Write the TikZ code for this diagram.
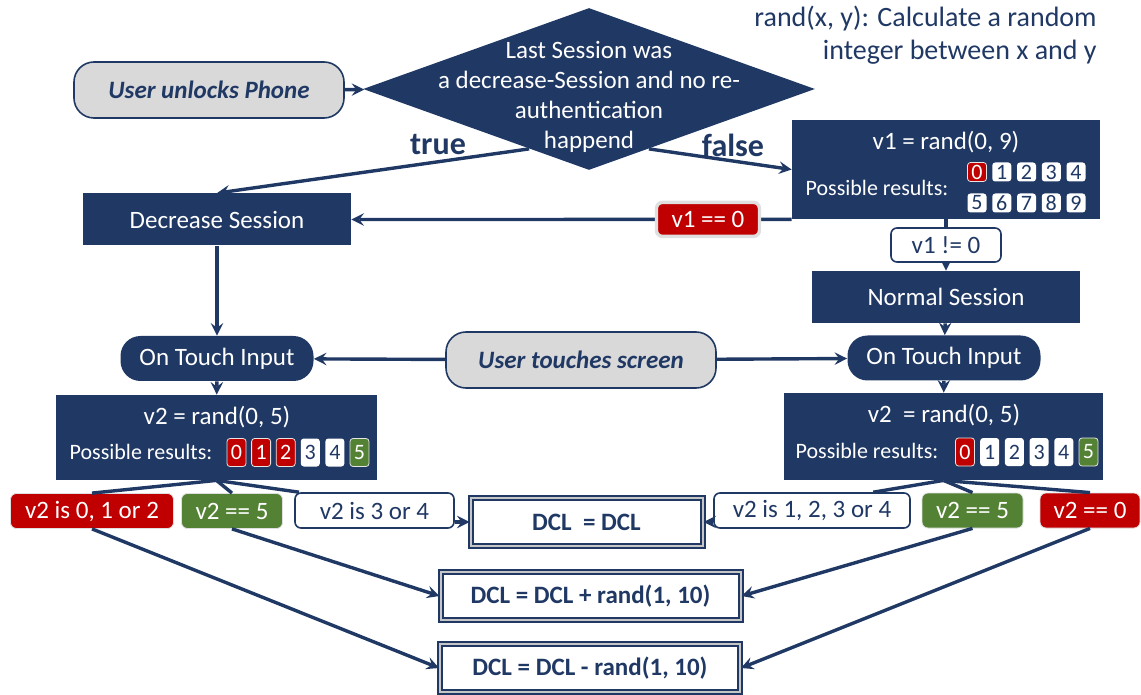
\documentclass[tikz,border=0pt]{standalone}
\usepackage{fontspec}
\setmainfont{Carlito}
\usetikzlibrary{shapes.geometric, arrows, calc}

\definecolor{boxblue}{HTML}{203864}
\definecolor{alarmred}{HTML}{C00000}
\definecolor{okgreen}{HTML}{548235}
\definecolor{eventgray}{HTML}{D9D9D9}

\newcommand{\mainfont}{\fontsize{12.5}{15}\selectfont}
\newcommand{\smallfont}{\fontsize{11}{13}\selectfont}

\tikzstyle{event} = [
    rectangle,
    rounded corners=10pt,
    minimum width=135pt,
    minimum height=28pt,
    draw=boxblue,
    line width=0.8pt,
    fill=eventgray,
    text=boxblue,
    font=\mainfont\bfseries\itshape
]
\tikzstyle{decision} = [
    diamond,
    minimum width=226pt,
    minimum height=81pt,
    inner sep=0pt,
    fill=boxblue
]
\tikzstyle{process} = [
    rectangle,
    minimum width=134pt,
    minimum height=26pt,
    fill=boxblue,
    text=white,
    font=\mainfont
]
\tikzstyle{handler} = [
    rectangle,
    rounded corners=10pt,
    minimum width=96.5pt,
    minimum height=22.5pt,
    fill=boxblue,
    text=white,
    font=\mainfont
]
\tikzstyle{randbox} = [
    rectangle,
    fill=boxblue
]
\tikzstyle{result} = [
    rectangle,
    minimum height=24pt,
    draw=boxblue,
    double=gray!45,
    line width=1pt,
    double distance=1pt,
    fill=white,
    text=boxblue,
    font=\mainfont\bfseries
]
\tikzstyle{cond} = [
    rectangle,
    rounded corners=3pt,
    minimum height=17.5pt,
    inner sep=1pt,
    font=\mainfont
]
\tikzstyle{condred} = [cond, fill=alarmred, text=white, draw=gray!25]
\tikzstyle{condgreen} = [cond, fill=okgreen, text=white, draw=gray!25]
\tikzstyle{condwhite} = [cond, fill=white, text=boxblue, draw=boxblue, line width=0.8pt]
\tikzstyle{digit} = [
    rectangle,
    rounded corners=1.5pt,
    minimum width=9.5pt,
    minimum height=9.5pt,
    inner sep=0pt,
    font=\smallfont
]
\tikzstyle{digw} = [digit, fill=white, text=boxblue]
\tikzstyle{digr} = [digit, fill=alarmred, text=white, draw=white!80!gray, line width=0.4pt]
\tikzstyle{digg} = [digit, fill=okgreen, text=white, draw=white!80!gray, line width=0.4pt]
\tikzstyle{arrow} = [line width=1.7pt, draw=boxblue, ->, >=stealth]
\tikzstyle{link} = [line width=1.7pt, draw=boxblue]

\begin{document}
\begin{tikzpicture}[x=0.5pt, y=-0.5pt]
\useasboundingbox (0,0) rectangle (1141,695);

% note in the corner
\node (randnote) [anchor=north east, align=right, text=boxblue,
    font=\fontsize{14}{16.5}\selectfont, inner sep=0pt] at (1097,6)
{rand(x, y): Calculate a random\\integer between x and y};

% start and first decision
\node (unlock) [event] at (209,90) {User unlocks Phone};
\node (check) [decision] at (589,89) {};
\node (checktext) [align=center, text=white, font=\mainfont] at (589,97)
{Last Session was\\a decrease-Session and no re-\\authentication\\happend};
\node (truelbl) [text=boxblue, font=\fontsize{16}{18}\selectfont\bfseries] at (438,145) {true};
\node (falselbl) [text=boxblue, font=\fontsize{16}{18}\selectfont\bfseries] at (733,145) {false};

\node (decrease) [process] at (217,219.5) {Decrease Session};

% v1 box
\node (v1box) [randbox, minimum width=154pt, minimum height=49.5pt] at (946,169.5) {};
\node (v1title) [text=white, font=\mainfont] at (946,142) {v1 = rand(0, 9)};
\node (v1poss) [text=white, font=\smallfont] at (877,188) {Possible results:};
\foreach \d/\s [count=\i from 0] in {0/digr,1/digw,2/digw,3/digw,4/digw}
    \node (v1d\d) [\s] at (977+24.75*\i,172) {\d};
\foreach \d [count=\i from 0] in {5,6,7,8,9}
    \node (v1d\d) [digw] at (977+24.75*\i,203) {\d};

\node (normal) [process] at (946,297) {Normal Session};

% touch handling
\node (otileft) [handler] at (217,358.5) {On Touch Input};
\node (otiright) [handler] at (944,358) {On Touch Input};
\node (touch) [event] at (581,360) {User touches screen};

% v2 boxes
\node (v2left) [randbox, minimum width=160.5pt, minimum height=42.5pt] at (216.5,437.5) {};
\node (v2ltitle) [text=white, font=\mainfont] at (217,417) {v2 = rand(0, 5)};
\node (v2lposs) [text=white, font=\smallfont] at (141,452) {Possible results:};
\foreach \d/\s [count=\i from 0] in {0/digr,1/digr,2/digr,3/digw,4/digw,5/digg}
    \node (v2ld\d) [\s, minimum height=14pt] at (236.5+24.6*\i,452.5) {\d};

\node (v2right) [randbox, minimum width=159.5pt, minimum height=43.5pt] at (943.5,436.5) {};
\node (v2rtitle) [text=white, font=\mainfont] at (944,415) {v2~ = rand(0, 5)};
\node (v2rposs) [text=white, font=\smallfont] at (867,451) {Possible results:};
\foreach \d/\s [count=\i from 0] in {0/digr,1/digw,2/digw,3/digw,4/digw,5/digg}
    \node (v2rd\d) [\s, minimum height=14pt] at (965+24.7*\i,452) {\d};

% outcomes
\node (lred) [condred, minimum width=81.5pt] at (92,511) {v2 is 0, 1 or 2};
\node (lgreen) [condgreen, minimum width=50.5pt] at (232,511) {v2 == 5};
\node (lwhite) [condwhite, minimum width=79.5pt] at (374.5,510.5) {v2 is 3 or 4};
\node (rwhite) [condwhite, minimum width=98pt] at (812,510.5) {v2 is 1, 2, 3 or 4};
\node (rgreen) [condgreen, minimum width=50.5pt] at (972.5,510.5) {v2 == 5};
\node (rred) [condred, minimum width=50pt] at (1090,510.5) {v2 == 0};

\node (dclsame) [result, minimum width=116pt] at (586.5,522) {DCL~ = DCL};
\node (dclplus) [result, minimum width=150pt] at (590.5,596) {DCL = DCL + rand(1, 10)};
\node (dclminus) [result, minimum width=150pt] at (590,668) {DCL = DCL - rand(1, 10)};

% connectors
\draw [arrow] (unlock) -- (check);
\draw [arrow] (check.225) -- (decrease.north);
\draw [arrow] (check.-45) -- (v1box.west);
\draw [arrow] (v1box.south west) -- (decrease.east)
    node [condred, minimum width=51.5pt, minimum height=17pt, pos=0.19] (v1zero) {v1 == 0};
\draw [arrow] (v1box.south) -- (normal.north)
    node [condwhite, minimum width=55pt, minimum height=17pt, midway] (v1nonzero) {v1 != 0};
\draw [arrow] (decrease) -- (otileft);
\draw [arrow] (normal) -- (otiright);
\draw [arrow] (touch) -- (otileft);
\draw [arrow] (touch) -- (otiright);
\draw [arrow] (otileft) -- (v2left);
\draw [arrow] (otiright) -- (v2right);

\draw [link] (v2left.south) -- (lred.north);
\draw [link] (v2left.south) -- (lgreen.north);
\draw [link] (v2left.south) -- ($(lwhite.north)!0.94!(lwhite.north west)$);
\draw [link] (v2right.south) -- ($(rwhite.north)!0.62!(rwhite.north east)$);
\draw [link] (v2right.south) -- (rgreen.north);
\draw [link] (v2right.south) -- (rred.north);

\draw [arrow] (lwhite.east |- dclsame.west) -- (dclsame.west);
\draw [arrow] (rwhite.west |- dclsame.east) -- (dclsame.east);
\draw [arrow] (lgreen.south) -- (dclplus.west);
\draw [arrow] (lred.south) -- (dclminus.west);
\draw [arrow] (rgreen.south) -- (dclplus.east);
\draw [arrow] (rred.south) -- (dclminus.east);

\end{tikzpicture}
\end{document}
